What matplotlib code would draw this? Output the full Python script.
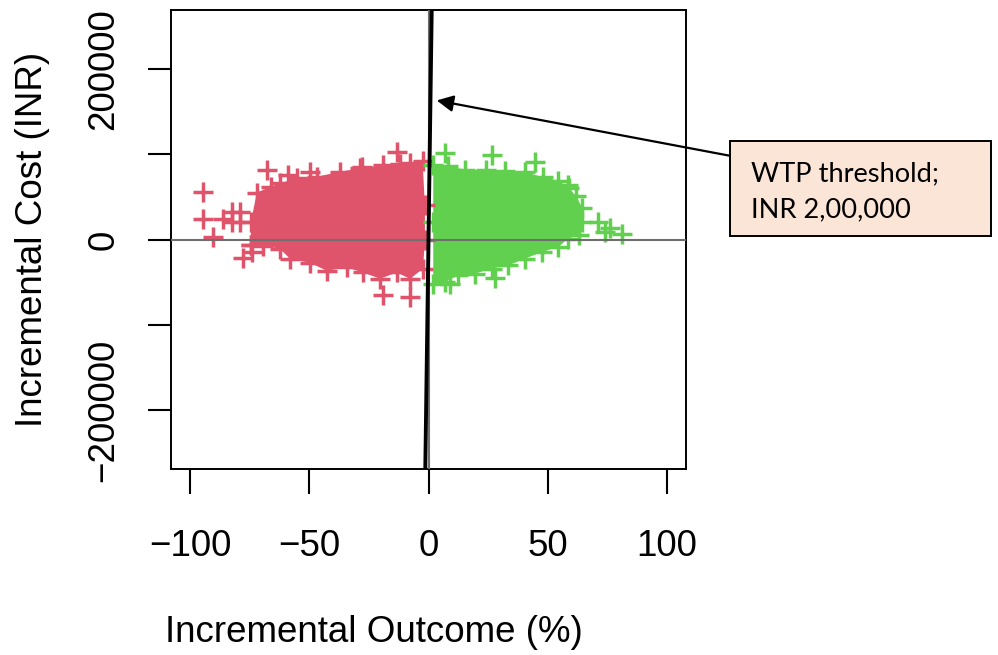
import matplotlib
matplotlib.use('Agg')
import matplotlib.pyplot as plt
from matplotlib.patches import Rectangle

plt.rcParams['font.family'] = ['Liberation Sans', 'DejaVu Sans']

# ---------------- data ----------------
wtp = 200000  # INR per unit outcome

x_ticks = [-100, -50, 0, 50, 100]
x_tick_labels = ['\u2212100', '\u221250', '0', '50', '100']
y_ticks = [-200000, -100000, 0, 100000, 200000]
y_tick_labels = ['\u2212200000', '', '0', '', '200000']

# outer sample points of the dense simulation cloud (not cost-effective, red)
red_edge_x = [-74.5, -74.5, -72, -66, -62.3, -55.3, -46.9, -37.1, -28.7, -19,
              -12, -7.8, -2.5, -1.5, -1.5, -2.3, -7.8, -13.3, -20.3, -27.5,
              -34.3, -42.7, -49.7, -58.1, -62.3, -69.4, -74.5]
red_edge_y = [-6000, 20000, 55000, 62000, 65800, 71700, 73500, 79400, 83400,
              87000, 88000, 89200, 92000, 40000, 0, -34300, -46000, -38600,
              -46000, -38600, -32800, -36600, -27300, -22600, -10800, -7300,
              -6000]
# isolated red simulations
red_out_x = [-94.4, -94.4, -90.2, -86, -82.5, -79, -82.5, -79, -77.7, -74.1,
             -67.8, -58.8, -49.7, -28, -13.3, -19, -7.8]
red_out_y = [55400, 23700, 2600, 24600, 32600, 32600, 20900, 20900, -22000,
             -14300, 81500, 75700, 79500, 85400, 103000, -65100, -67100]

# outer sample points of the cost-effective cloud (green)
green_edge_x = [2, 8, 15.3, 24, 32.1, 40.5, 48, 54.4, 59, 62, 64.5, 64.5, 63,
                58.6, 54.4, 47.5, 40.5, 33.5, 26.5, 19.5, 12.5, 6.9, 2, 2]
green_edge_y = [87800, 86000, 82000, 81000, 80000, 79000, 73000, 69000, 60000,
                50500, 37000, 20000, 5000, 1000, -8800, -14700, -22400, -30300,
                -34100, -40000, -42000, -49900, -51700, 20000]
green_out_x = [71.2, 74, 76.1, 81, 6.9, 26.5, 44.7, 58.6, 27.9, 9]
green_out_y = [20900, 9000, 13000, 6000, 101100, 99100, 91300, 64000, -45500,
               -52000]

annot_lines = ['WTP threshold;', 'INR 2,00,000']

# ---------------- style ----------------
red = '#DF536B'
green = '#61D04F'
gray = '#6E6E6E'
fs = 26.5

fig = plt.figure(figsize=(9.98, 6.55), dpi=100)
ax = fig.add_axes([171 / 998, 1 - 469 / 655, 515 / 998, 459 / 655])
ax.set_xlim(-108, 108)
ax.set_ylim(-269000, 269000)

mk = dict(marker='+', ms=15, mew=2.5, ls='none', zorder=3)
ax.fill(red_edge_x, red_edge_y, color=red, lw=0, zorder=2)
ax.plot(red_edge_x, red_edge_y, color=red, **mk)
ax.plot(red_out_x, red_out_y, color=red, **mk)
ax.fill(green_edge_x, green_edge_y, color=green, lw=0, zorder=2)
ax.plot(green_edge_x, green_edge_y, color=green, **mk)
ax.plot(green_out_x, green_out_y, color=green, **mk)

ax.axhline(0, color=gray, lw=1.5, zorder=4)
ax.axvline(0, color=gray, lw=1.5, zorder=4)
ax.axline((0, 0), slope=wtp, color='black', lw=2.8, zorder=5)

for s in ax.spines.values():
    s.set_linewidth(1.4)

ax.set_xticks(x_ticks)
ax.set_xticklabels(x_tick_labels)
ax.set_yticks(y_ticks)
ax.set_yticklabels(y_tick_labels, rotation=90, va='center', ha='center')
ax.tick_params(axis='x', length=18, width=1.5, pad=25, labelsize=fs)
ax.tick_params(axis='y', length=16.5, width=1.5, pad=32, labelsize=fs)

ax.set_xlabel('Incremental Outcome (%)', fontsize=fs, va='center', ha='center')
ax.xaxis.set_label_coords((373.5 - 171) / 515, (469 - 632) / 459)
ax.set_ylabel('Incremental Cost (INR)', fontsize=fs, va='center', ha='center')
ax.yaxis.set_label_coords((33 - 171) / 515, 0.5)

# annotation box
W, H = 998, 655
fig.add_artist(Rectangle((729.6 / W, 1 - 236 / H), (990.7 - 729.6) / W, 95 / H,
                         transform=fig.transFigure, facecolor='#FBE5D6',
                         edgecolor='black', lw=1.4, zorder=1))
fig.text(751 / W, 1 - 181 / H, annot_lines[0], fontsize=19.6,
         family=['Lato', 'DejaVu Sans'], va='baseline', ha='left')
fig.text(751 / W, 1 - 217 / H, annot_lines[1], fontsize=19.6,
         family=['Lato', 'DejaVu Sans'], va='baseline', ha='left')
ax.annotate('', xy=(3.44, 163000), xycoords='data',
            xytext=(729.6, H - 155.7), textcoords='figure pixels',
            arrowprops=dict(arrowstyle='-|>', color='black', lw=1.6,
                            mutation_scale=25, shrinkA=0, shrinkB=0),
            annotation_clip=False, zorder=6)

fig.savefig('out.png', dpi=100)
